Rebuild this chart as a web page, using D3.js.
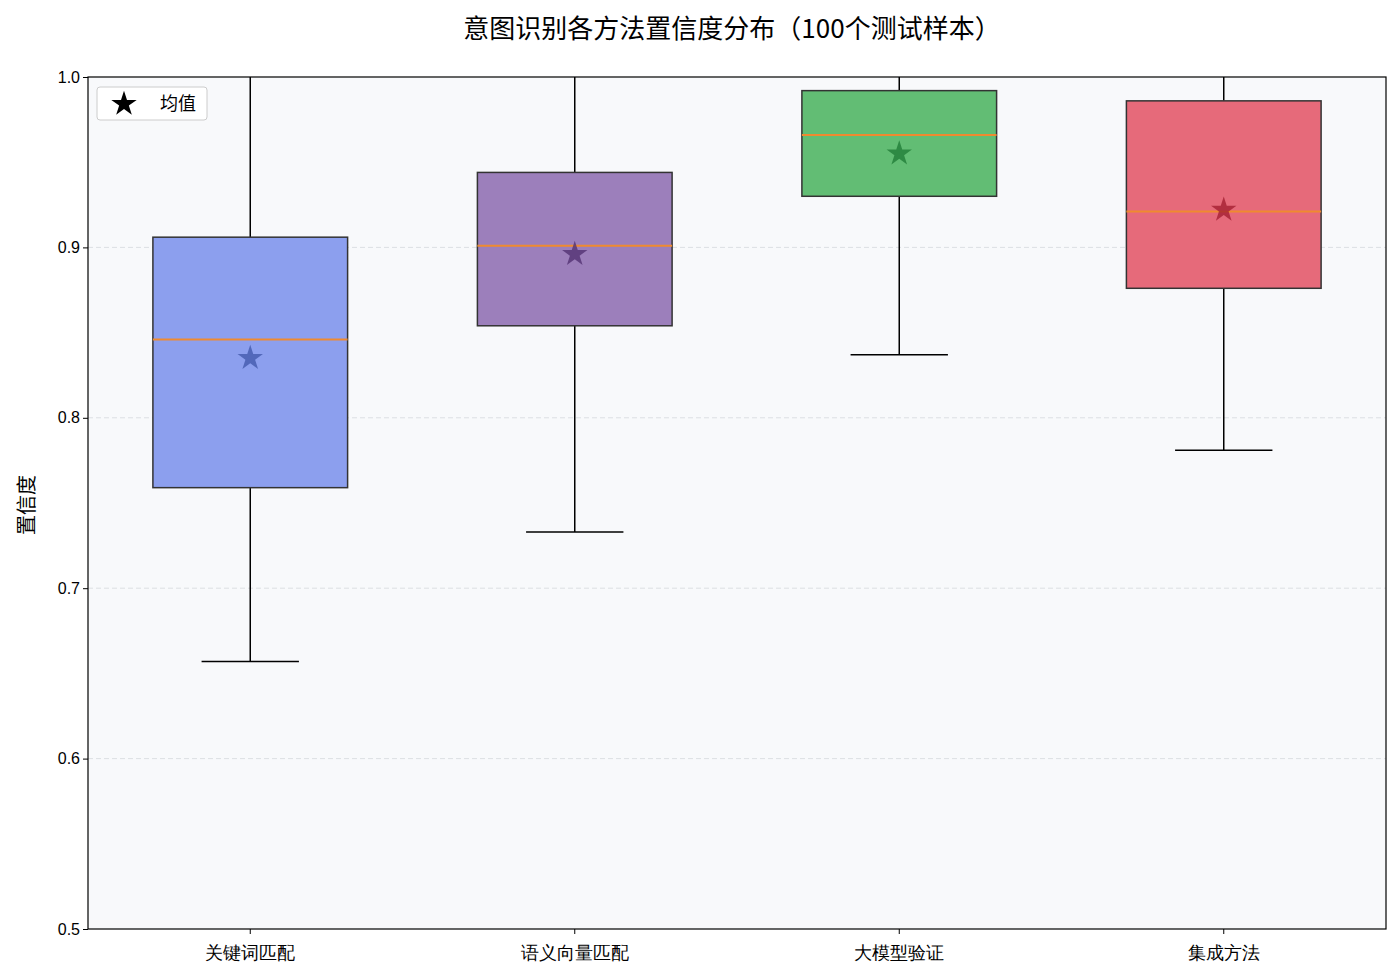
<!DOCTYPE html><html><head><meta charset="utf-8"><script src="https://cdn.jsdelivr.net/npm/d3@7"></script>
<style>body{margin:0;background:#fff;font-family:"Noto Sans CJK SC","DejaVu Sans",sans-serif}</style></head><body><svg id="c" width="1400" height="976"></svg><script>
const categories=["关键词匹配","语义向量匹配","大模型验证","集成方法"];
const whiskerLow=[0.657,0.733,0.837,0.781];
const q1=[0.759,0.854,0.930,0.876];
const median=[0.846,0.901,0.966,0.921];
const q3=[0.906,0.944,0.992,0.986];
const whiskerHigh=[1.0,1.0,1.0,1.0];
const means=[0.835,0.896,0.955,0.922];
const fills=["#8c9fee","#9c7fbb","#62bd74","#e66a7a"];
const starCols=["#3f55a8","#4d2c6e","#1e7a34","#a01b2d"];
const yTicks=[0.5,0.6,0.7,0.8,0.9,1.0];
const svg=d3.select("#c");
const L=88,R=1386,T=77,B=929;
const x=d3.scaleBand().domain(categories).range([L,R]).paddingInner(0.4).paddingOuter(0.2);
const y=d3.scaleLinear().domain([0.5,1.0]).range([B,T]);
svg.append("rect").attr("x",L).attr("y",T).attr("width",R-L).attr("height",B-T).attr("fill","#f8f9fb");
svg.append("g").selectAll("line").data(yTicks.slice(1,-1)).join("line").attr("x1",L).attr("x2",R).attr("y1",d=>y(d)).attr("y2",d=>y(d)).attr("stroke","#dcdfe3").attr("stroke-dasharray","5,3");
const g=svg.append("g");
const bw=x.bandwidth();
categories.forEach((c,i)=>{
  const cx=x(c)+bw/2;
  g.append("line").attr("x1",cx).attr("x2",cx).attr("y1",y(q3[i])).attr("y2",y(whiskerHigh[i])).attr("stroke","#000").attr("stroke-width",1.5);
  g.append("line").attr("x1",cx).attr("x2",cx).attr("y1",y(q1[i])).attr("y2",y(whiskerLow[i])).attr("stroke","#000").attr("stroke-width",1.5);
  g.append("line").attr("x1",cx-bw/4).attr("x2",cx+bw/4).attr("y1",y(whiskerLow[i])).attr("y2",y(whiskerLow[i])).attr("stroke","#000").attr("stroke-width",1.5);
  g.append("rect").attr("x",x(c)).attr("width",bw).attr("y",y(q3[i])).attr("height",y(q1[i])-y(q3[i])).attr("fill",fills[i]).attr("stroke","#333").attr("stroke-width",1.5);
  g.append("line").attr("x1",x(c)).attr("x2",x(c)+bw).attr("y1",y(median[i])).attr("y2",y(median[i])).attr("stroke","#ef8a2f").attr("stroke-width",2);
  g.append("path").attr("d",d3.symbol(d3.symbolStar,200)()).attr("transform",`translate(${cx},${y(means[i])})`).attr("fill",starCols[i]).attr("opacity",0.75);
});
const xa=svg.append("g").attr("transform",`translate(0,${B})`).call(d3.axisBottom(x).tickSize(5));
xa.selectAll("text").attr("font-size",18).attr("fill","#000").attr("dy","1.2em");
const ya=svg.append("g").attr("transform",`translate(${L},0)`).call(d3.axisLeft(y).tickValues(yTicks).tickFormat(d3.format(".1f")).tickSize(5));
ya.selectAll("text").attr("font-size",16).attr("fill","#000");
[xa,ya].forEach(a=>a.select(".domain").remove());
svg.append("rect").attr("x",L).attr("y",T).attr("width",R-L).attr("height",B-T).attr("fill","none").attr("stroke","#000").attr("stroke-width",1.2);
svg.append("text").attr("x",732).attr("y",38).attr("text-anchor","middle").attr("font-size",26).text("意图识别各方法置信度分布（100个测试样本）");
svg.append("text").attr("transform","translate(34,505) rotate(-90)").attr("text-anchor","middle").attr("font-size",20).text("置信度");
const lg=svg.append("g");
lg.append("rect").attr("x",97).attr("y",87).attr("width",110).attr("height",33).attr("rx",3).attr("fill","#fff").attr("stroke","#ccc");
lg.append("path").attr("d",d3.symbol(d3.symbolStar,200)()).attr("transform","translate(124,104)").attr("fill","#000");
lg.append("text").attr("x",160).attr("y",110).attr("font-size",18).text("均值");
</script></body></html>
